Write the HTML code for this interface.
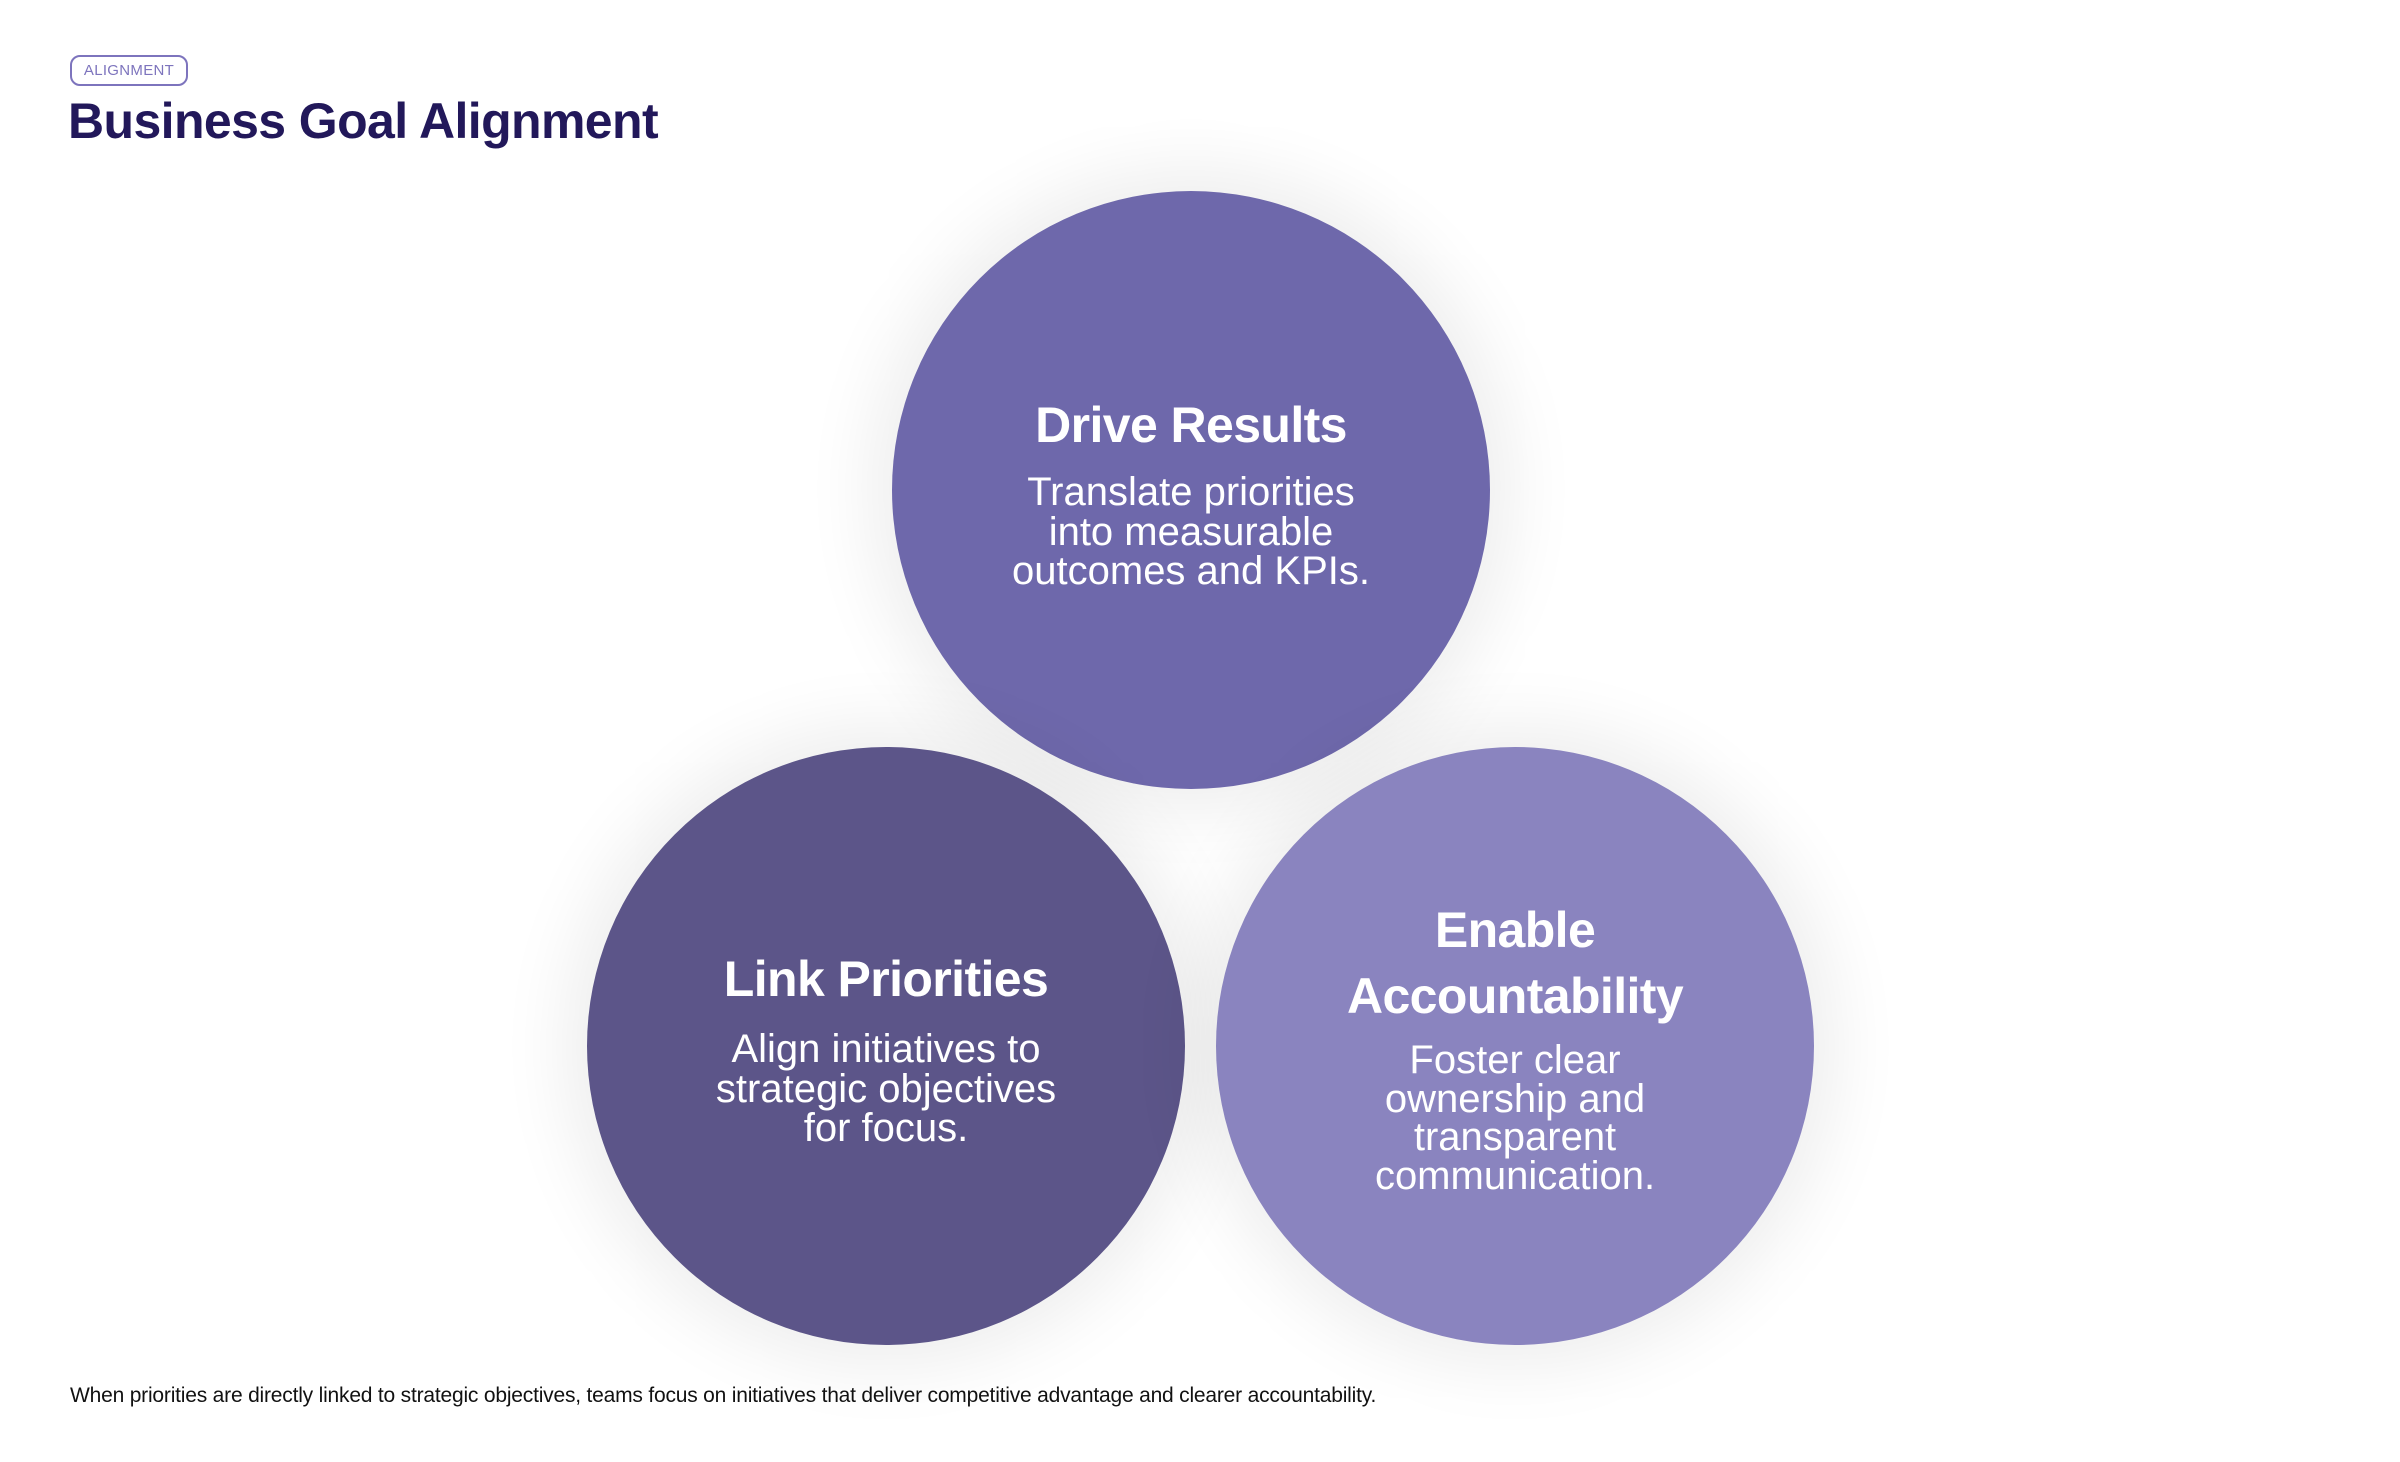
<!DOCTYPE html>
<html><head><meta charset="utf-8"><style>
html,body{margin:0;padding:0;background:#fff;}
body{width:2400px;height:1462px;position:relative;overflow:hidden;font-family:"Liberation Sans",Arial,sans-serif;}
.badge{position:absolute;left:70px;top:55px;width:114px;height:27px;border:2px solid #7d74bd;border-radius:10px;color:#7d74bd;font-size:15px;line-height:27px;text-align:center;letter-spacing:0.3px;}
.title{position:absolute;left:68px;top:91px;font-size:50px;font-weight:bold;color:#22185a;letter-spacing:-0.6px;line-height:60px;}
.c{position:absolute;width:598px;height:598px;border-radius:50%;box-shadow:0 0 70px 22px rgba(0,0,0,0.07);}
.t{position:absolute;width:700px;text-align:center;color:#fff;}
.h{font-size:50px;font-weight:bold;line-height:60px;letter-spacing:-0.6px;}
.b{font-size:40px;line-height:39.5px;}
.foot{position:absolute;left:70px;top:1384px;font-size:21px;color:#111;letter-spacing:-0.2px;}
</style></head><body>
<div class="badge">ALIGNMENT</div>
<div class="title">Business Goal Alignment</div>

<div class="c" style="left:892px;top:191px;background:#6e68ab;"></div>
<div class="c" style="left:587px;top:747px;background:#5c5589;"></div>
<div class="c" style="left:1216px;top:747px;background:#8a84bf;"></div>

<div class="t h" style="left:841px;top:395px;">Drive Results</div>
<div class="t b" style="left:841px;top:473px;">Translate priorities<br>into measurable<br>outcomes and KPIs.</div>

<div class="t h" style="left:536px;top:949px;">Link Priorities</div>
<div class="t b" style="left:536px;top:1030px;">Align initiatives to<br>strategic objectives<br>for focus.</div>

<div class="t h" style="left:1165px;top:897px;line-height:66px;">Enable<br>Accountability</div>
<div class="t b" style="left:1165px;top:1041px;line-height:38.5px;">Foster clear<br>ownership and<br>transparent<br>communication.</div>

<div class="foot">When priorities are directly linked to strategic objectives, teams focus on initiatives that deliver competitive advantage and clearer accountability.</div>
</body></html>
